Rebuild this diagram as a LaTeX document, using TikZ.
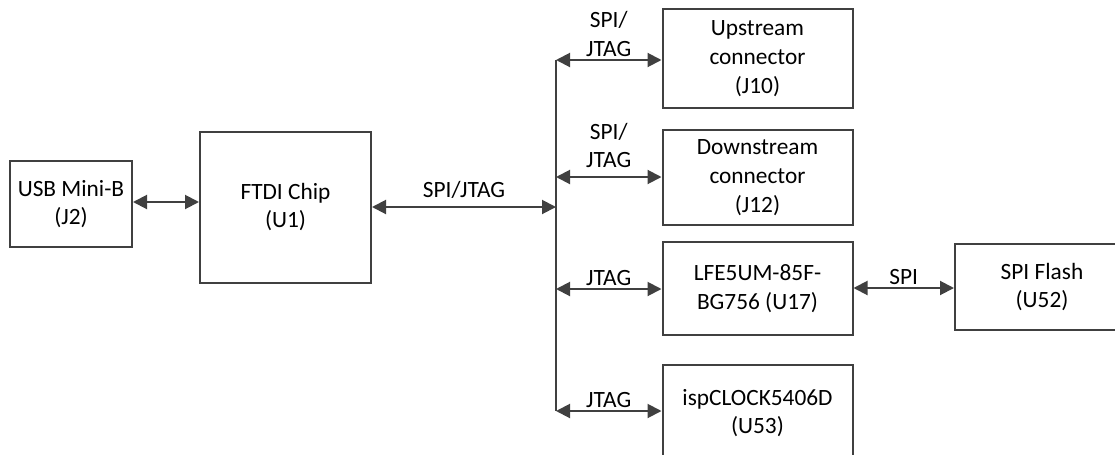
\documentclass[tikz,border=0pt]{standalone}
\usepackage{fontspec}
\setmainfont{Carlito}
\usepackage{tikz}
\usetikzlibrary{arrows.meta, positioning}
\usepackage{xcolor}
\definecolor{linegray}{HTML}{404040}

\tikzset{
  blockbox/.style={rectangle, draw=linegray, line width=1.5pt, align=center,
      font=\fontsize{17.5}{21.5}\selectfont, inner sep=2pt},
  link/.style={draw=linegray, line width=1.5pt,
      {Triangle[length=10.5pt,width=10.5pt]}-{Triangle[length=10.5pt,width=10.5pt]}},
  linktext/.style={font=\fontsize{17.5}{21.5}\selectfont, align=center, inner sep=2pt}
}

\begin{document}
\begin{tikzpicture}[x=0.75pt, y=-0.75pt]
\useasboundingbox (0,0) rectangle (1115,454);
\clip (0,0) rectangle (1115,454);

% boxes
\node[blockbox, minimum width=91.5pt, minimum height=64.5pt] (usb) at (71,204) {USB Mini-B\\(J2)};
\node[blockbox, minimum width=128.25pt, minimum height=113.25pt] (ftdi) at (285.5,207) {FTDI Chip\\(U1)};
\node[blockbox, minimum width=142.5pt, minimum height=74.25pt] (upconn) at (757.5,58.5) {Upstream\\connector\\(J10)};
\node[blockbox, minimum width=142.5pt, minimum height=71.25pt] (downconn) at (757.5,177.5) {Downstream\\connector\\(J12)};
\node[blockbox, minimum width=142.5pt, minimum height=69.75pt] (fpga) at (757.5,288.5) {LFE5UM-85F-\\BG756 (U17)};
\node[blockbox, minimum width=142.5pt, minimum height=72pt] (clock) at (757.5,413) {ispCLOCK5406D\\(U53)};
\node[blockbox, minimum width=130.5pt, minimum height=64.5pt] (flash) at (1042,287) {SPI Flash\\(U52)};

% bus and its taps
\coordinate (bustop) at (556,60);
\coordinate (busin) at (556,207);
\coordinate (busdown) at (556,177);
\coordinate (busfpga) at (556,289);
\coordinate (busbot) at (556,411);
\draw[linegray, line width=1.5pt] (bustop) -- (busbot);

% links
\draw[link] (usb.east |- 0,202) -- (ftdi.west |- 0,202);
\draw[link] (ftdi.east |- busin) -- (busin)
  node[linktext, midway, above, yshift=4pt] {SPI/JTAG};
\draw[link] (bustop) -- (upconn.west |- bustop)
  node[linktext, midway, above] {SPI/\\JTAG};
\draw[link] (busdown) -- (downconn.west |- busdown)
  node[linktext, midway, above, yshift=4pt] {SPI/\\JTAG};
\draw[link] (busfpga) -- (fpga.west |- busfpga)
  node[linktext, midway, above] {JTAG};
\draw[link] (busbot) -- (clock.west |- busbot)
  node[linktext, midway, above] {JTAG};
\draw[link] (fpga.east |- 0,288) -- (flash.west |- 0,288)
  node[linktext, midway, above] {SPI};
\end{tikzpicture}
\end{document}
